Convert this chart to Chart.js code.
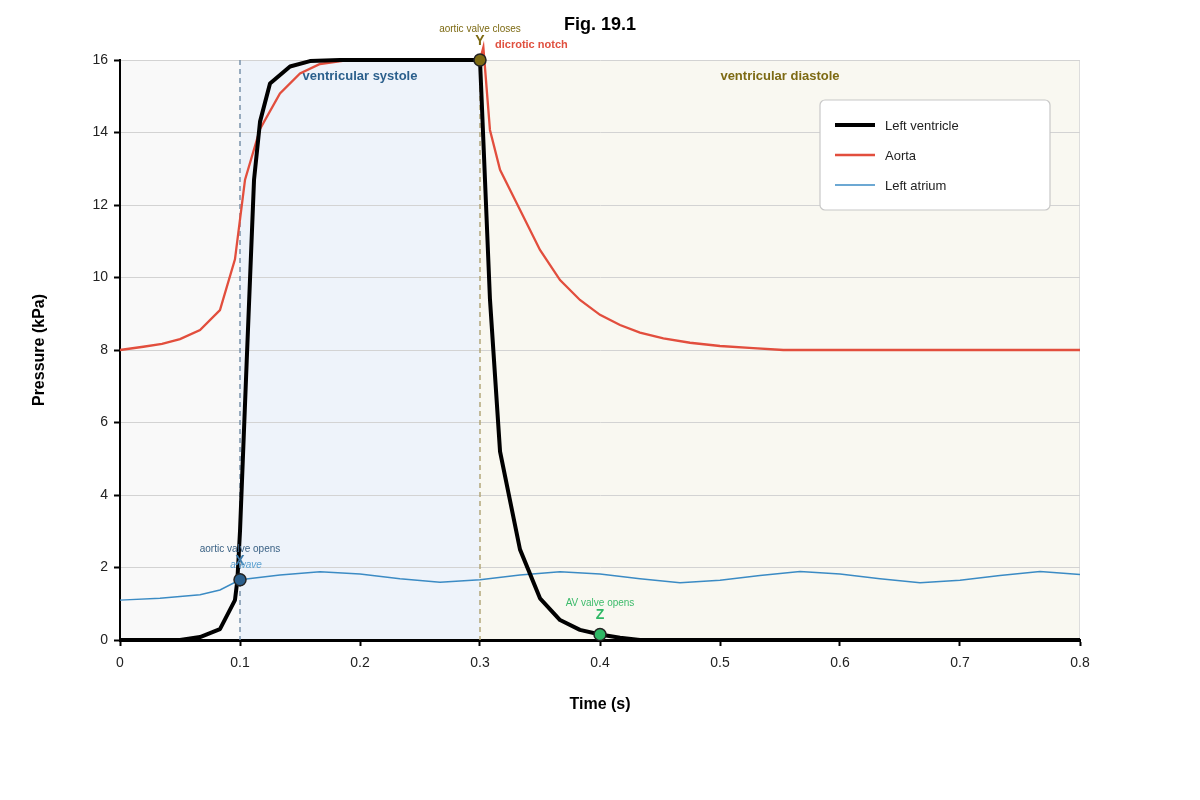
<!DOCTYPE html>
<html>
<head>
<meta charset="utf-8">
<title>Fig. 19.1</title>
<script src="https://cdn.jsdelivr.net/npm/chart.js@4.4.1/dist/chart.umd.min.js"></script>
<style>
  html, body { margin: 0; padding: 0; background: #fff; }
  #wrap { width: 1200px; height: 800px; }
</style>
</head>
<body>
<div id="wrap"><canvas id="cycleChart" width="1200" height="800"></canvas></div>
<script>
// pressures (time in s, pressure in kPa)
const lvTime = [0, 0.05, 0.0667, 0.0833, 0.0958, 0.0978, 0.1, 0.1056, 0.1117, 0.1167, 0.125, 0.1417, 0.1583, 0.1833, 0.3,
  0.3083, 0.3167, 0.3333, 0.35, 0.3667, 0.3833, 0.4, 0.4167, 0.4333, 0.8];
const lvPressure = [0, 0, 0.08, 0.3, 1.1, 1.65, 3.0, 7.7, 12.7, 14.3, 15.35, 15.82, 15.97, 16, 16,
  9.4, 5.2, 2.5, 1.15, 0.55, 0.28, 0.15, 0.06, 0, 0];

const aortaTime = [0, 0.0194, 0.035, 0.05, 0.0667, 0.0833, 0.0958, 0.1042, 0.1167, 0.1333, 0.15, 0.1667, 0.19, 0.3,
  0.3028, 0.3083, 0.3167, 0.3306, 0.35, 0.3667, 0.3833, 0.4, 0.4167, 0.4333, 0.4528, 0.475, 0.5, 0.5278, 0.5528, 0.8];
const aortaPressure = [8.0, 8.09, 8.17, 8.3, 8.55, 9.1, 10.5, 12.7, 14.1, 15.08, 15.63, 15.89, 16, 16,
  16.35, 14.07, 12.97, 12.05, 10.76, 9.93, 9.38, 8.97, 8.69, 8.48, 8.32, 8.2, 8.11, 8.05, 8.0, 8.0];

const atriumTime = [0, 0.0333, 0.0667, 0.0833, 0.1, 0.1333, 0.1667, 0.2, 0.2333, 0.2667, 0.3, 0.3333, 0.3667, 0.4,
  0.4333, 0.4667, 0.5, 0.5333, 0.5667, 0.6, 0.6333, 0.6667, 0.7, 0.7333, 0.7667, 0.8];
const atriumPressure = [1.1, 1.15, 1.25, 1.38, 1.66, 1.79, 1.88, 1.82, 1.69, 1.59, 1.66, 1.79, 1.88, 1.82,
  1.69, 1.58, 1.65, 1.78, 1.89, 1.82, 1.69, 1.58, 1.65, 1.78, 1.89, 1.81];

// X, Y, Z events
const eventTime = [0.1, 0.3, 0.4];
const eventPressure = [1.66, 16, 0.15];
const eventLetters = ['X', 'Y', 'Z'];
const eventNotes = ['aortic valve opens', 'aortic valve closes', 'AV valve opens'];
const eventColors = ['#2b5f8c', '#7d6a13', '#2fb865'];

const xTicks = [0, 0.1, 0.2, 0.3, 0.4, 0.5, 0.6, 0.7, 0.8];
const yTicks = [0, 2, 4, 6, 8, 10, 12, 14, 16];

const FONT = '"Liberation Sans", Arial, sans-serif';

function pts(xs, ys) {
  return xs.map((x, i) => ({ x: x, y: ys[i] }));
}

// backgrounds, phase boundaries
const phasePlugin = {
  id: 'phases',
  beforeDraw(chart) {
    const { ctx, chartArea: a, scales: { x } } = chart;
    const x1 = x.getPixelForValue(0.1), x3 = x.getPixelForValue(0.3);
    ctx.save();
    ctx.fillStyle = '#f9f9f9';
    ctx.fillRect(a.left, a.top, x1 - a.left, a.bottom - a.top);
    ctx.fillStyle = '#eef3fa';
    ctx.fillRect(x1, a.top, x3 - x1, a.bottom - a.top);
    ctx.fillStyle = '#f9f8f1';
    ctx.fillRect(x3, a.top, a.right - x3, a.bottom - a.top);
    ctx.strokeStyle = '#dddddd';
    ctx.lineWidth = 1;
    ctx.beginPath();
    ctx.moveTo(a.right - 0.5, a.top);
    ctx.lineTo(a.right - 0.5, a.bottom);
    ctx.stroke();
    ctx.restore();
  },
  beforeDatasetsDraw(chart) {
    const { ctx, chartArea: a, scales: { x } } = chart;
    ctx.save();
    ctx.lineWidth = 1.5;
    ctx.setLineDash([5, 4]);
    ctx.strokeStyle = '#7a93aa';
    let px = x.getPixelForValue(0.1);
    ctx.beginPath(); ctx.moveTo(px, a.top); ctx.lineTo(px, a.bottom); ctx.stroke();
    ctx.strokeStyle = '#b3a77a';
    px = x.getPixelForValue(0.3);
    ctx.beginPath(); ctx.moveTo(px, a.top); ctx.lineTo(px, a.bottom); ctx.stroke();
    ctx.restore();

    ctx.save();
    ctx.font = 'bold 13px ' + FONT;
    ctx.textAlign = 'center';
    ctx.textBaseline = 'middle';
    ctx.fillStyle = '#2b5f8c';
    ctx.fillText('ventricular systole', x.getPixelForValue(0.2), a.top + 16);
    ctx.fillStyle = '#7d6a13';
    ctx.fillText('ventricular diastole', x.getPixelForValue(0.55), a.top + 16);
    ctx.restore();
  }
};

// labels, legend, titles
const notesPlugin = {
  id: 'notes',
  afterDraw(chart) {
    const { ctx, chartArea: a, scales: { x, y } } = chart;
    ctx.save();
    ctx.textAlign = 'center';
    ctx.textBaseline = 'middle';

    ctx.fillStyle = '#000';
    ctx.font = 'bold 18px ' + FONT;
    ctx.fillText('Fig. 19.1', 600, 25);

    ctx.font = 'bold 16px ' + FONT;
    ctx.fillText('Time (s)', (a.left + a.right) / 2, 705);
    ctx.save();
    ctx.translate(40, (a.top + a.bottom) / 2);
    ctx.rotate(-Math.PI / 2);
    ctx.fillText('Pressure (kPa)', 0, 0);
    ctx.restore();

    const noteColors = ['#3b6285', '#7d6a13', '#3dbb6b'];
    const letterColors = ['#3a78a8', '#7d6a13', '#2fb865'];
    eventTime.forEach((t, i) => {
      const px = x.getPixelForValue(t), py = y.getPixelForValue(eventPressure[i]);
      ctx.font = '10px ' + FONT;
      ctx.fillStyle = noteColors[i];
      ctx.fillText(eventNotes[i], px, py - 31);
      ctx.font = 'bold 14px ' + FONT;
      ctx.fillStyle = letterColors[i];
      ctx.fillText(eventLetters[i], px, py - 19);
    });

    const ax = x.getPixelForValue(0.1), ay = y.getPixelForValue(1.66);
    ctx.font = 'italic 10px ' + FONT;
    ctx.fillStyle = '#5aa0d0';
    ctx.fillText('a wave', ax + 6, ay - 15);

    ctx.font = 'bold 11px ' + FONT;
    ctx.fillStyle = '#e0503f';
    ctx.textAlign = 'left';
    ctx.fillText('dicrotic notch', x.getPixelForValue(0.3) + 15, y.getPixelForValue(16) - 15);

    // legend box
    const bx = a.right - 260, by = a.top + 40, bw = 230, bh = 110;
    ctx.fillStyle = '#ffffff';
    ctx.strokeStyle = '#c8c8c8';
    ctx.lineWidth = 1.2;
    ctx.beginPath();
    ctx.roundRect(bx, by, bw, bh, 5);
    ctx.fill();
    ctx.stroke();
    const ds = chart.data.datasets.filter(d => d.inLegend);
    ds.forEach((d, i) => {
      const ly = by + 25 + i * 30;
      ctx.strokeStyle = d.borderColor;
      ctx.lineWidth = d.legendWidth;
      ctx.beginPath();
      ctx.moveTo(bx + 15, ly);
      ctx.lineTo(bx + 55, ly);
      ctx.stroke();
      ctx.fillStyle = '#222';
      ctx.font = '13px ' + FONT;
      ctx.textAlign = 'left';
      ctx.fillText(d.label, bx + 65, ly + 1);
    });
    ctx.restore();
  }
};

const ctx = document.getElementById('cycleChart').getContext('2d');
new Chart(ctx, {
  type: 'line',
  data: {
    datasets: [
      {
        type: 'scatter', label: 'events', data: pts(eventTime, eventPressure),
        pointRadius: 6, pointHoverRadius: 6, pointBackgroundColor: eventColors,
        pointBorderColor: '#222', pointBorderWidth: 1.5, showLine: false, clip: false, order: 0
      },
      {
        label: 'Left ventricle', data: pts(lvTime, lvPressure), inLegend: true, legendWidth: 4,
        borderColor: '#000', borderWidth: 4, pointRadius: 0, tension: 0, clip: false, order: 1,
        borderJoinStyle: 'round'
      },
      {
        label: 'Aorta', data: pts(aortaTime, aortaPressure), inLegend: true, legendWidth: 2.5,
        borderColor: '#e24e3d', borderWidth: 2.3, pointRadius: 0, tension: 0, clip: false, order: 2
      },
      {
        label: 'Left atrium', data: pts(atriumTime, atriumPressure), inLegend: true, legendWidth: 1.5,
        borderColor: '#3b8bc4', borderWidth: 1.5, pointRadius: 0, tension: 0, clip: false, order: 3
      }
    ]
  },
  options: {
    responsive: false,
    animation: false,
    events: [],
    layout: { padding: { top: 60, right: 120, left: 0, bottom: 0 } },
    plugins: { legend: { display: false }, tooltip: { enabled: false }, title: { display: false } },
    scales: {
      x: {
        type: 'linear', min: 0, max: 0.8,
        afterFit: s => { s.height = 160; },
        afterBuildTicks: s => { s.ticks = xTicks.map(v => ({ value: v })); },
        grid: { drawOnChartArea: false, tickLength: 6, tickColor: '#000', tickWidth: 2 },
        border: { color: '#000', width: 3 },
        ticks: { color: '#222', font: { size: 14, family: FONT }, padding: 9, callback: v => String(v) }
      },
      y: {
        min: 0, max: 16,
        afterFit: s => { s.width = 120; },
        afterBuildTicks: s => { s.ticks = yTicks.map(v => ({ value: v })); },
        grid: { color: '#d3d3d3', lineWidth: 1, tickLength: 6, tickColor: '#000', tickWidth: 2 },
        border: { color: '#000', width: 2 },
        ticks: { color: '#222', font: { size: 14, family: FONT }, padding: 6 }
      }
    }
  },
  plugins: [phasePlugin, notesPlugin]
});
</script>
</body>
</html>
